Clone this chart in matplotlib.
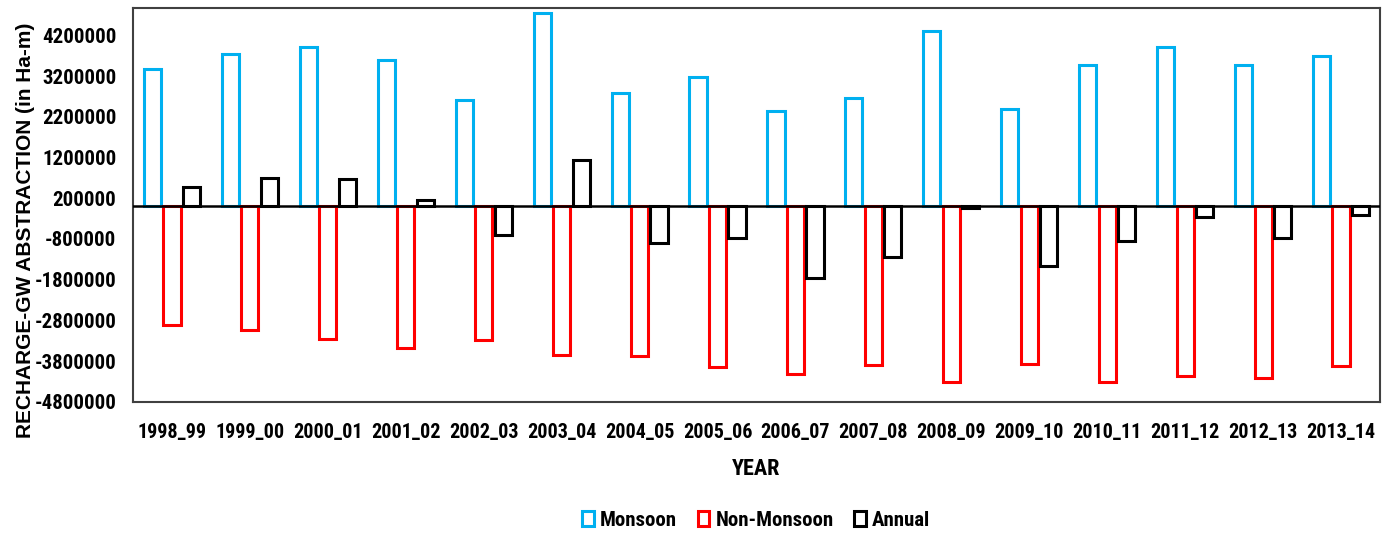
import numpy as np
import matplotlib.pyplot as plt
from matplotlib.patches import Patch

years = ["1998_99", "1999_00", "2000_01", "2001_02", "2002_03", "2003_04",
         "2004_05", "2005_06", "2006_07", "2007_08", "2008_09", "2009_10",
         "2010_11", "2011_12", "2012_13", "2013_14"]
monsoon = [3380000, 3750000, 3920000, 3600000, 2600000, 4750000,
           2790000, 3180000, 2350000, 2670000, 4310000, 2400000,
           3480000, 3920000, 3460000, 3700000]
non_monsoon = [-2920000, -3040000, -3260000, -3470000, -3280000, -3650000,
               -3670000, -3940000, -4110000, -3890000, -4310000, -3870000,
               -4310000, -4160000, -4210000, -3920000]
annual = [470000, 690000, 660000, 150000, -710000, 1130000,
          -910000, -780000, -1760000, -1250000, -40000, -1470000,
          -850000, -250000, -780000, -200000]

blue = "#00B0F0"
red = "#FF0000"
black = "#000000"

font = ["Roboto Condensed", "Lato", "DejaVu Sans"]

fig = plt.figure(figsize=(13.85, 5.33), dpi=100, facecolor="white")
ax = fig.add_axes([0.096, 0.246, 0.9004, 0.739])

x = np.arange(len(years))
w = 0.22
lw = 2.2
ax.bar(x - 0.25, monsoon, width=w, facecolor="white", edgecolor=blue, linewidth=lw)
ax.bar(x, non_monsoon, width=w, facecolor="white", edgecolor=red, linewidth=lw)
ax.bar(x + 0.25, annual, width=w, facecolor="white", edgecolor=black, linewidth=lw)
ax.axhline(0, color="black", linewidth=1.8, zorder=5)

ax.set_xlim(-0.5, len(years) - 0.5)
ax.set_ylim(-4800000, 4870000)
yt = np.arange(-4800000, 4200001, 1000000)
ax.set_yticks(yt)
ax.set_yticklabels([str(v) for v in yt], family=font, fontsize=15, fontweight="bold")
ax.set_xticks(x)
ax.set_xticklabels(years, family=font, fontsize=14.5, fontweight="bold")
ax.tick_params(length=0, pad=12)
ax.tick_params(axis="x", pad=15)

for s in ax.spines.values():
    s.set_color("#404040")
    s.set_linewidth(1.5)

ax.set_xlabel("YEAR", family=font, fontsize=16, fontweight="bold", labelpad=12)
fig.text(0.0185, 0.568, "RECHARGE-GW ABSTRACTION (in Ha-m)", family=["Liberation Sans", "DejaVu Sans"],
         fontsize=15, fontweight="bold", rotation=90, ha="center", va="center")

handles = [
    Patch(facecolor="white", edgecolor=blue, linewidth=lw, label="Monsoon"),
    Patch(facecolor="white", edgecolor=red, linewidth=lw, label="Non-Monsoon"),
    Patch(facecolor="white", edgecolor=black, linewidth=lw, label="Annual"),
]
fig.legend(handles=handles, loc="center", bbox_to_anchor=(0.546, 0.024), ncol=3,
           frameon=False, handlelength=0.55, handleheight=0.75, handletextpad=0.3,
           columnspacing=1.0, prop={"family": font, "size": 15, "weight": "bold"})

fig.savefig("out.png", dpi=100, facecolor="white")
